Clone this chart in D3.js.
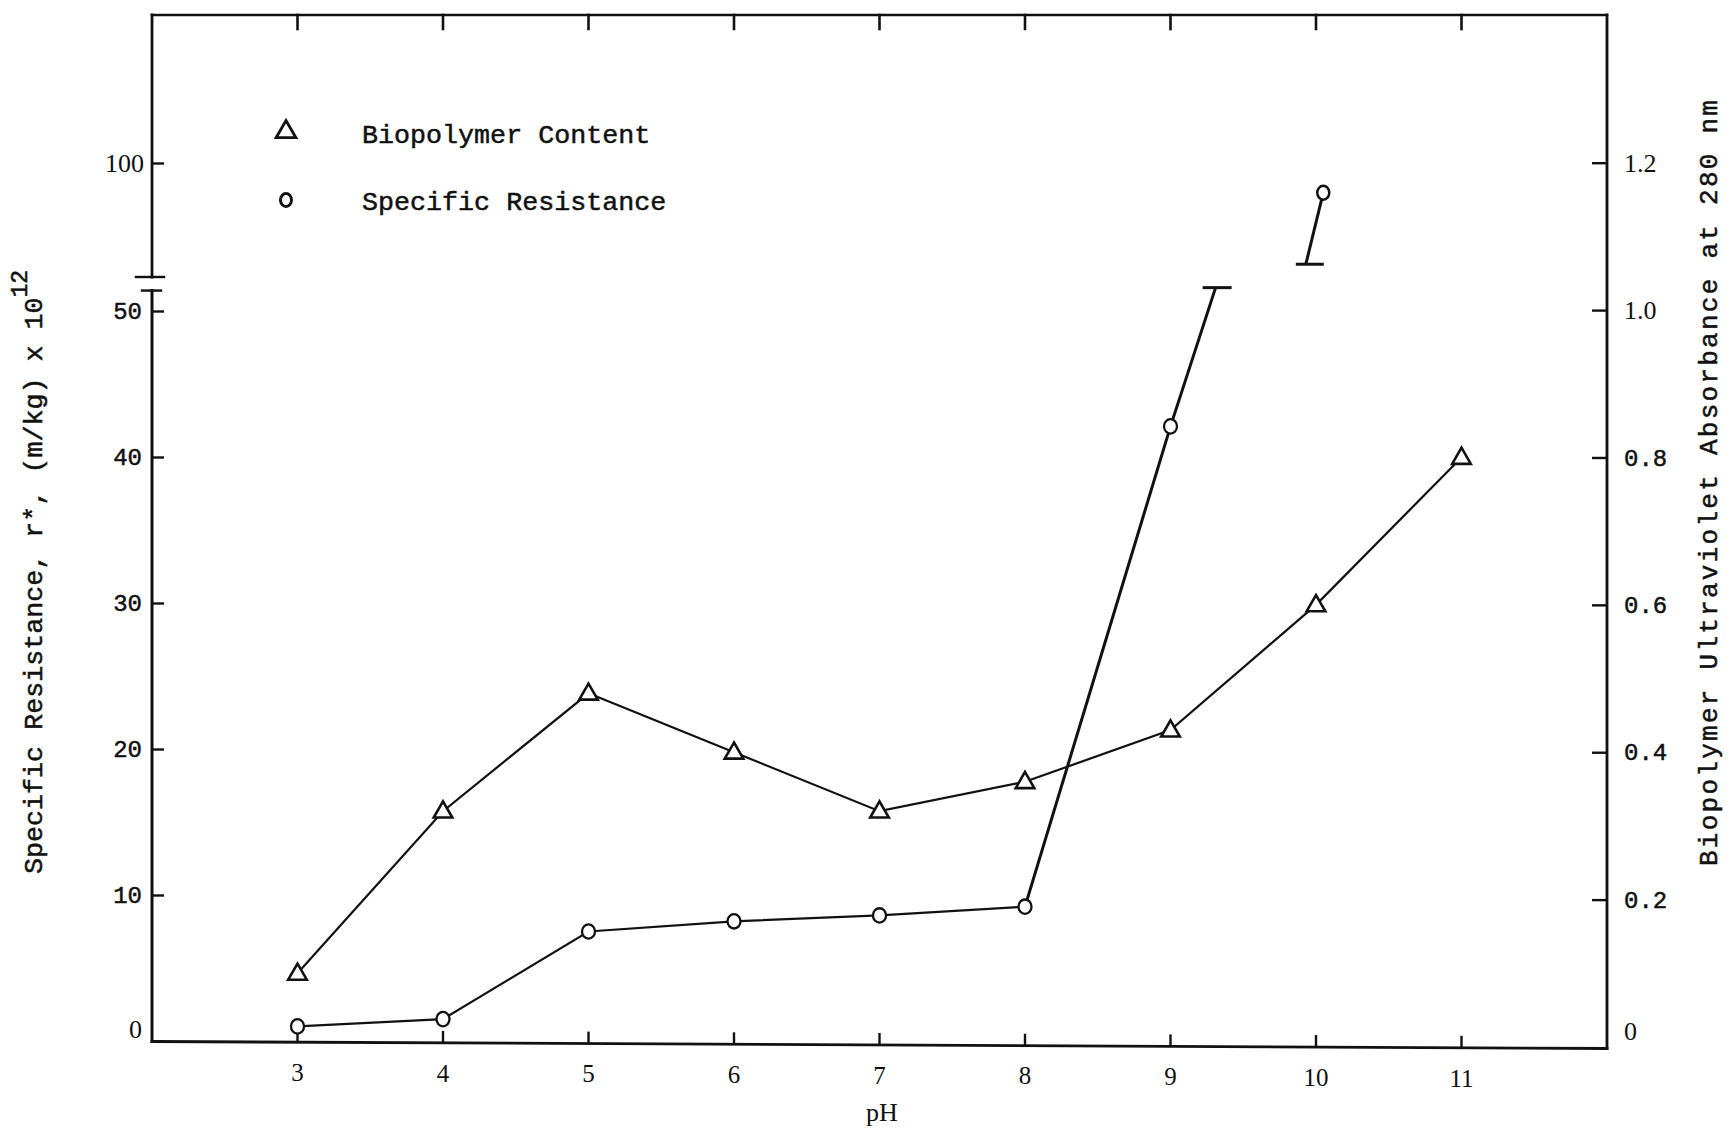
<!DOCTYPE html>
<html>
<head>
<meta charset="utf-8">
<script src="https://cdn.jsdelivr.net/npm/d3@7"></script>
<style>
  html, body { margin: 0; padding: 0; background: #fff; }
  svg { display: block; }
  .mono { font-family: "Liberation Mono", "Courier New", monospace; fill: #111; stroke: #111; stroke-width: 0.5px; }
  .serif { font-family: "Liberation Serif", "Times New Roman", serif; fill: #111; }
</style>
</head>
<body>
<svg id="chart" width="1735" height="1132"></svg>
<script>
// pH values and measurements
const phValues = [3, 4, 5, 6, 7, 8, 9, 10, 11];
const biopolymerAbsorbance = [0.10, 0.32, 0.48, 0.40, 0.32, 0.36, 0.43, 0.60, 0.80];
const resistancePH = [3, 4, 5, 6, 7, 8, 9];
const specificResistance = [1.0, 1.5, 7.5, 8.2, 8.6, 9.2, 42.1];
// point above the axis break (upper, compressed part of the left axis)
const highResistancePH = [10.05];
const highResistance = [87];
// where the pH 9 -> 10 segment leaves the lower part and re-enters the upper part
const breakPH = [9.31, 9.93];
const breakResistance = [51.6, 55.6];

const leftTicksLower = [0, 10, 20, 30, 40, 50];
const leftTicksUpper = [100];
const rightTicks = [0, 0.2, 0.4, 0.6, 0.8, 1.0, 1.2];
const serifLabels = new Set(["0", "100", "1.2", "1.0"]);
const legendLabels = ["Biopolymer Content", "Specific Resistance"];

const svg = d3.select("#chart");

const x = d3.scaleLinear().domain([2, 12]).range([152, 1607]);
const yL = d3.scaleLinear().domain([0, 50]).range([1041, 311]);      // lower part, r*
const yU = d3.scaleLinear().domain([50, 100]).range([277, 163]);     // upper part, r*
const yR = d3.scaleLinear().domain([0, 1.2]).range([1047, 162.7]);   // absorbance

const yTop = 15;
const xL = x(2), xR = x(12);
// the pH axis runs from the left zero to the right zero, slightly sloped
const base = d3.scaleLinear().domain([2, 12]).range([yL(0) + 0.5, yR(0) + 1.5]);
const ink = "#111";

// frame
const frame = svg.append("g").attr("stroke", ink).attr("fill", "none").attr("stroke-linecap", "square");
frame.append("line").attr("x1", xL).attr("x2", xR).attr("y1", yTop).attr("y2", yTop).attr("stroke-width", 2.6);
frame.append("line").attr("x1", xL).attr("x2", xR).attr("y1", base(2)).attr("y2", base(12)).attr("stroke-width", 2.8);
frame.append("line").attr("x1", xR).attr("x2", xR).attr("y1", yTop).attr("y2", base(12)).attr("stroke-width", 2.8);
// left axis, broken between the two scales
frame.append("line").attr("x1", xL).attr("x2", xL).attr("y1", yTop).attr("y2", yU(50)).attr("stroke-width", 2.8);
frame.append("line").attr("x1", xL).attr("x2", xL).attr("y1", yL(51.4)).attr("y2", base(2)).attr("stroke-width", 3);
frame.append("line").attr("x1", xL - 16).attr("x2", xL + 12).attr("y1", yU(50)).attr("y2", yU(50)).attr("stroke-width", 2.4);
frame.append("line").attr("x1", xL - 10).attr("x2", xL + 9).attr("y1", yL(51.4)).attr("y2", yL(51.4)).attr("stroke-width", 2.4);

// top ticks
frame.selectAll("line.topTick").data(phValues).join("line")
  .attr("class", "topTick")
  .attr("x1", d => x(d)).attr("x2", d => x(d))
  .attr("y1", yTop).attr("y2", yTop + 14).attr("stroke-width", 2.6);

function styleAxis(g) {
  g.select(".domain").remove();
  g.selectAll(".tick line").attr("stroke", ink).attr("stroke-width", 2.4);
  g.selectAll(".tick text").attr("fill", ink);
}

// bottom axis, each tick sitting on the sloped baseline
const gx = svg.append("g")
  .call(d3.axisBottom(x).tickValues(phValues).tickSizeInner(-12).tickSizeOuter(0).tickPadding(21).tickFormat(d3.format("d")))
  .call(styleAxis);
gx.selectAll(".tick").attr("transform", d => `translate(${x(d)},${base(d)})`);
gx.selectAll(".tick text").attr("class", "serif").attr("font-size", 25).attr("stroke", "none");

// left axis, lower part
const gyl = svg.append("g").attr("transform", `translate(${xL},0)`)
  .call(d3.axisLeft(yL).tickValues(leftTicksLower).tickSizeInner(-12).tickSizeOuter(0).tickPadding(10).tickFormat(d3.format("d")))
  .call(styleAxis);
// left axis, upper part
const gyu = svg.append("g").attr("transform", `translate(${xL},0)`)
  .call(d3.axisLeft(yU).tickValues(leftTicksUpper).tickSizeInner(-12).tickSizeOuter(0).tickPadding(8).tickFormat(d3.format("d")))
  .call(styleAxis);
// right axis
const gyr = svg.append("g").attr("transform", `translate(${xR},0)`)
  .call(d3.axisRight(yR).tickValues(rightTicks).tickSizeInner(-15).tickSizeOuter(0).tickPadding(17)
    .tickFormat(d => d === 0 ? "0" : d3.format(".1f")(d)))
  .call(styleAxis);
gyr.selectAll(".tick").filter(d => d === 0).select("line").remove();

[gyl, gyu, gyr].forEach(g => {
  g.selectAll(".tick text").each(function () {
    const t = d3.select(this);
    const serif = serifLabels.has(t.text());
    t.attr("class", serif ? "serif" : "mono")
     .attr("font-size", serif ? 26 : 24)
     .attr("stroke", serif ? "none" : ink);
  });
});
gyl.selectAll(".tick").filter(d => d === 0).select("text").attr("dy", "-0.12em");
gyr.selectAll(".tick").filter(d => d === 0).select("text").attr("dy", "-0.3em");

// axis titles
svg.append("text").attr("class", "serif").attr("font-size", 26)
  .attr("x", 882).attr("y", 1121).attr("text-anchor", "middle").text("pH");

const leftTitle = svg.append("text").attr("class", "mono").attr("font-size", 26.7)
  .attr("transform", "translate(42,874) rotate(-90)");
leftTitle.append("tspan").text("Specific Resistance, r*, (m/kg) x 10");
leftTitle.append("tspan").attr("dy", -15).attr("font-size", 23).text("12");

svg.append("text").attr("class", "mono").attr("font-size", 26)
  .attr("transform", "translate(1717,483) rotate(-90)")
  .attr("text-anchor", "middle").attr("textLength", 766).attr("lengthAdjust", "spacing")
  .text("Biopolymer Ultraviolet Absorbance at 280 nm");

// legend
const tri = d3.symbol().type(d3.symbolTriangle);
const legendY = [133, 200];
svg.append("path").attr("d", tri.size(170)()).attr("transform", `translate(286,${legendY[0] - 1})`)
  .attr("fill", "none").attr("stroke", ink).attr("stroke-width", 2.8);
svg.append("ellipse").attr("cx", 286).attr("cy", legendY[1]).attr("rx", 5.5).attr("ry", 6.5)
  .attr("fill", "none").attr("stroke", ink).attr("stroke-width", 3);
svg.selectAll("text.legend").data(legendLabels).join("text")
  .attr("class", "mono legend").attr("font-size", 26.7)
  .attr("x", 362).attr("y", (d, i) => legendY[i] + 9.5)
  .text(d => d);

// series lines
const absData = phValues.map((p, i) => ({ p, v: biopolymerAbsorbance[i] }));
const resData = resistancePH.map((p, i) => ({ p, v: specificResistance[i] }));

const absLine = d3.line().x(d => x(d.p)).y(d => yR(d.v));
const resLine = d3.line().x(d => x(d.p)).y(d => yL(d.v));

svg.append("path").datum(absData).attr("d", absLine)
  .attr("fill", "none").attr("stroke", ink).attr("stroke-width", 2.2);
svg.append("path").datum(resData.slice(0, 6)).attr("d", resLine)
  .attr("fill", "none").attr("stroke", ink).attr("stroke-width", 2.2);
// steep rise from pH 8 to 9 and on to the axis break
const riseData = resData.slice(5).concat([{ p: breakPH[0], v: breakResistance[0] }]);
svg.append("path").datum(riseData).attr("d", resLine)
  .attr("fill", "none").attr("stroke", ink).attr("stroke-width", 3);
// continuation above the break
const upperData = [{ p: breakPH[1], v: breakResistance[1] }, { p: highResistancePH[0], v: highResistance[0] }];
svg.append("path").datum(upperData)
  .attr("d", d3.line().x(d => x(d.p)).y(d => yU(d.v)))
  .attr("fill", "none").attr("stroke", ink).attr("stroke-width", 3);
// break caps
svg.append("line")
  .attr("x1", x(breakPH[0]) - 13).attr("x2", x(breakPH[0]) + 16)
  .attr("y1", yL(breakResistance[0])).attr("y2", yL(breakResistance[0]))
  .attr("stroke", ink).attr("stroke-width", 3);
svg.append("line")
  .attr("x1", x(breakPH[1]) - 10).attr("x2", x(breakPH[1]) + 18)
  .attr("y1", yU(breakResistance[1])).attr("y2", yU(breakResistance[1]))
  .attr("stroke", ink).attr("stroke-width", 3);

// markers
svg.selectAll("path.tri").data(absData).join("path")
  .attr("class", "tri")
  .attr("d", tri.size(150)())
  .attr("transform", d => `translate(${x(d.p)},${yR(d.v) + 1})`)
  .attr("fill", "#fff").attr("stroke", ink).attr("stroke-width", 2.6);

svg.selectAll("ellipse.res").data(resData).join("ellipse")
  .attr("class", "res")
  .attr("cx", d => x(d.p)).attr("cy", d => yL(d.v))
  .attr("rx", 6.5).attr("ry", 7.2)
  .attr("fill", "#fff").attr("stroke", ink).attr("stroke-width", 2.3);

svg.selectAll("ellipse.resHigh").data(highResistancePH.map((p, i) => ({ p, v: highResistance[i] }))).join("ellipse")
  .attr("class", "resHigh")
  .attr("cx", d => x(d.p)).attr("cy", d => yU(d.v))
  .attr("rx", 6).attr("ry", 7)
  .attr("fill", "#fff").attr("stroke", ink).attr("stroke-width", 2.5);
</script>
</body>
</html>
